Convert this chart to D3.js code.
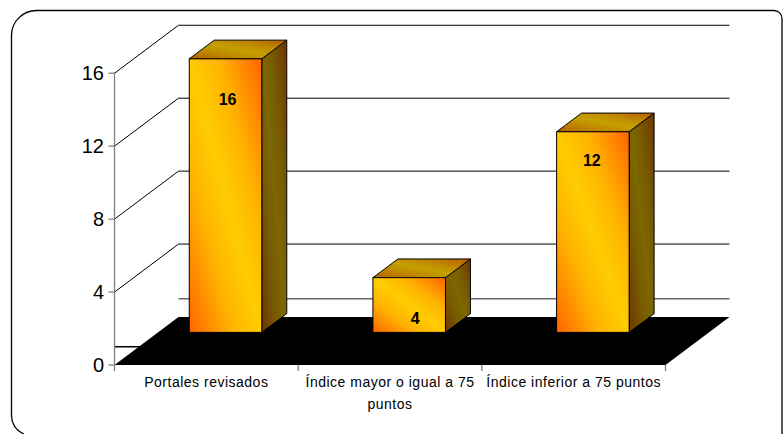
<!DOCTYPE html>
<html>
<head>
<meta charset="utf-8">
<script src="https://cdn.jsdelivr.net/npm/d3@7"></script>
<style>
  html, body { margin: 0; padding: 0; background: #fff; }
  svg { display: block; }
</style>
</head>
<body>
<svg id="chart" width="783" height="434"></svg>
<script>
// Chart data
const categories = ["Portales revisados", "Índice mayor o igual a 75 puntos", "Índice inferior a 75 puntos"];
const values = [16, 4, 12];
const yTicks = [0, 4, 8, 12, 16];

// Layout
const W = 783, H = 434;
const axisX = 114.5, plotRight = 665.5;
const yBottom = 365, yTop = 73.25;
const DX = 64, DY = -48;          // oblique depth vector (front -> back wall)
const f0 = 0.30, f1 = 0.69;       // bar depth range (fraction of full depth)
const floorTop = 1;               // floor slab thickness in value units
const barRatio = 0.395;
const labelDrop = [46, 46, 34];   // data label baseline below bar top
const labelShift = [2, 6, -1];

const svg = d3.select("#chart");

const y = d3.scaleLinear().domain([0, 16]).range([yBottom, yTop]);
const x = d3.scaleBand().domain(categories).range([axisX, plotRight]).padding(0);

// Frame
svg.append("path")
  .attr("d", "M11.5,35 A25,25 0 0 1 36.5,10.5 H774 A8,8 0 0 1 782,18.5 V434 M11.5,35 V414 A20,20 0 0 0 24,434")
  .attr("fill", "none").attr("stroke", "#000").attr("stroke-width", 1.3);

// Gradients
const defs = svg.append("defs");
function diagGrad(id, edge, mid, inner) {
  const g = defs.append("linearGradient").attr("id", id)
    .attr("x1", 0).attr("y1", 1).attr("x2", 1).attr("y2", 0);
  g.append("stop").attr("offset", 0).attr("stop-color", edge);
  g.append("stop").attr("offset", 0.3).attr("stop-color", inner);
  g.append("stop").attr("offset", 0.5).attr("stop-color", mid);
  g.append("stop").attr("offset", 0.7).attr("stop-color", inner);
  g.append("stop").attr("offset", 1).attr("stop-color", edge);
}
diagGrad("gFront", "#ff6400", "#ffcc00", "#ffb400");
diagGrad("gTop", "#b85c00", "#c4a000", "#bf8a00");
diagGrad("gSide", "#6e3600", "#7c6800", "#775a00");

const grid = svg.append("g");

// Back wall gridlines
grid.selectAll("line.back").data(yTicks.filter(t => t > 0)).join("line")
  .attr("x1", axisX + DX).attr("x2", plotRight + DX)
  .attr("y1", d => y(d) + DY).attr("y2", d => y(d) + DY)
  .attr("stroke", "#000").attr("stroke-width", 1);

// Side wall diagonals
grid.selectAll("line.side").data(yTicks.filter(t => t > 0)).join("line")
  .attr("x1", axisX).attr("x2", axisX + DX)
  .attr("y1", d => y(d)).attr("y2", d => y(d) + DY)
  .attr("stroke", "#000").attr("stroke-width", 1);

// Floor top edges
grid.append("line")
  .attr("x1", axisX + DX).attr("x2", plotRight + DX)
  .attr("y1", y(floorTop) + DY).attr("y2", y(floorTop) + DY)
  .attr("stroke", "#666").attr("stroke-width", 1.3);
grid.append("line")
  .attr("x1", axisX).attr("x2", axisX + 40)
  .attr("y1", y(floorTop)).attr("y2", y(floorTop))
  .attr("stroke", "#000").attr("stroke-width", 1.3);

// Black floor
svg.append("path")
  .attr("d", d3.line()([
    [axisX, y(0)], [plotRight, y(0)], [plotRight + DX, y(0) + DY], [axisX + DX, y(0) + DY]
  ]) + "Z")
  .attr("fill", "#000");

// Bars
const bw = x.bandwidth() * barRatio;
const ddx = DX * (f1 - f0), ddy = DY * (f1 - f0);
const bars = svg.append("g").selectAll("g").data(categories.map((c, i) => ({ c, v: values[i], i }))).join("g");

bars.each(function (d) {
  const g = d3.select(this);
  const xl = x(d.c) + (x.bandwidth() - bw) / 2 + DX * f0;
  const xr = xl + bw;
  const yt = y(d.v) + DY * f0;
  const yb = y(floorTop) + DY * f0;
  const line = d3.line();
  // right side
  g.append("path")
    .attr("d", line([[xr, yt], [xr + ddx, yt + ddy], [xr + ddx, yb + ddy], [xr, yb]]) + "Z")
    .attr("fill", "url(#gSide)").attr("stroke", "#000").attr("stroke-width", 1).attr("stroke-linejoin", "round");
  // top
  g.append("path")
    .attr("d", line([[xl, yt], [xl + ddx, yt + ddy], [xr + ddx, yt + ddy], [xr, yt]]) + "Z")
    .attr("fill", "url(#gTop)").attr("stroke", "#000").attr("stroke-width", 1).attr("stroke-linejoin", "round");
  // front
  g.append("rect")
    .attr("x", xl).attr("y", yt).attr("width", bw).attr("height", yb - yt)
    .attr("fill", "url(#gFront)").attr("stroke", "#000").attr("stroke-width", 1);
  // value label
  g.append("text")
    .attr("x", xl + bw / 2 + labelShift[d.i]).attr("y", yt + labelDrop[d.i])
    .attr("text-anchor", "middle")
    .attr("font-family", "Liberation Sans, Arial, sans-serif")
    .attr("font-weight", "bold").attr("font-size", 16)
    .text(d.v);
});

// Value axis
const yAxis = svg.append("g");
yAxis.append("line")
  .attr("x1", axisX).attr("x2", axisX).attr("y1", y(16) - 1).attr("y2", y(0))
  .attr("stroke", "#808080").attr("stroke-width", 1.3);
yAxis.selectAll("line.tick").data(yTicks).join("line")
  .attr("x1", axisX - 6).attr("x2", axisX)
  .attr("y1", d => y(d)).attr("y2", d => y(d))
  .attr("stroke", "#808080").attr("stroke-width", 1.3);
yAxis.selectAll("text").data(yTicks).join("text")
  .attr("x", 104).attr("y", d => y(d)).attr("dy", "0.36em")
  .attr("text-anchor", "end")
  .attr("font-family", "Liberation Sans, Arial, sans-serif")
  .attr("font-size", 20).attr("fill", "#000")
  .text(d => d);

// Category axis ticks
const xEdges = categories.map(c => x(c)).concat([plotRight]);
svg.append("g").selectAll("line").data(xEdges).join("line")
  .attr("x1", d => d).attr("x2", d => d).attr("y1", y(0)).attr("y2", y(0) + 6)
  .attr("stroke", "#808080").attr("stroke-width", 1.3);

// Category labels (wrapped to the band width)
const catG = svg.append("g")
  .attr("font-family", "Liberation Sans, Arial, sans-serif")
  .attr("font-size", 14).attr("letter-spacing", "0.5px").attr("fill", "#000");
categories.forEach(c => {
  const cx = x(c) + x.bandwidth() / 2;
  const t = catG.append("text").attr("x", cx).attr("y", 387).attr("text-anchor", "middle");
  const words = c.split(" ");
  let lineWords = [], lineNo = 0;
  let ts = t.append("tspan").attr("x", cx).attr("y", 387);
  words.forEach(w => {
    lineWords.push(w);
    ts.text(lineWords.join(" "));
    if (ts.node().getComputedTextLength() > x.bandwidth() - 6 && lineWords.length > 1) {
      lineWords.pop();
      ts.text(lineWords.join(" "));
      lineWords = [w];
      lineNo++;
      ts = t.append("tspan").attr("x", cx).attr("y", 387 + lineNo * 22).text(w);
    }
  });
});
</script>
</body>
</html>
